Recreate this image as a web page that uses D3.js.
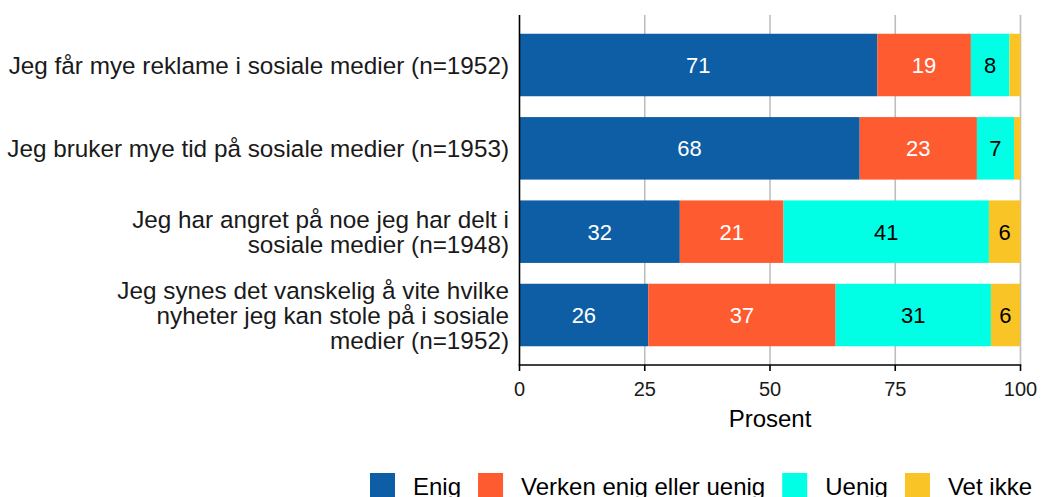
<!DOCTYPE html>
<html>
<head>
<meta charset="utf-8">
<script src="https://cdn.jsdelivr.net/npm/d3@7"></script>
<style>
  html, body { margin: 0; padding: 0; background: #ffffff; }
  svg { display: block; font-family: "Liberation Sans", Arial, sans-serif; }
</style>
</head>
<body>
<svg id="chart" width="1041" height="497"></svg>
<script>
// ---- data ----
const categories = [
  "Jeg får mye reklame i sosiale medier (n=1952)",
  "Jeg bruker mye tid på sosiale medier (n=1953)",
  "Jeg har angret på noe jeg har delt i sosiale medier (n=1948)",
  "Jeg synes det vanskelig å vite hvilke nyheter jeg kan stole på i sosiale medier (n=1952)"
];
const categoryLines = [
  ["Jeg får mye reklame i sosiale medier (n=1952)"],
  ["Jeg bruker mye tid på sosiale medier (n=1953)"],
  ["Jeg har angret på noe jeg har delt i", "sosiale medier (n=1948)"],
  ["Jeg synes det vanskelig å vite hvilke", "nyheter jeg kan stole på i sosiale", "medier (n=1952)"]
];
const seriesNames = ["Enig", "Verken enig eller uenig", "Uenig", "Vet ikke"];
const enig    = [71.4, 67.9, 32.0, 25.7];
const verken  = [18.7, 23.4, 20.7, 37.4];
const uenig   = [7.7, 7.4, 41.0, 31.0];
const vetIkke = [2.2, 1.3, 6.3, 5.8];
const xTicks = [0, 25, 50, 75, 100];
const axisTitle = "Prosent";

// ---- styles ----
const colors = ["#0e5ea5", "#ff5b31", "#00ffe4", "#f9c425"];
const labelColors = ["#ffffff", "#ffffff", "#000000", "#000000"];

const svg = d3.select("#chart");
const pLeft = 519.5, pRight = 1020.5, pTop = 15, pBottom = 365;

const x = d3.scaleLinear().domain([0, 100]).range([pLeft, pRight]);
const y = d3.scaleBand().domain(categories).range([pTop, pBottom])
  .paddingInner(0.25).paddingOuter(0.225);

const seriesValues = [enig, verken, uenig, vetIkke];
const rows = categories.map((c, i) => {
  const r = { cat: c };
  seriesNames.forEach((s, j) => r[s] = seriesValues[j][i]);
  return r;
});
const stacked = d3.stack().keys(seriesNames)(rows);

// gridlines
svg.append("g").selectAll("line").data(xTicks.filter(t => t > 0)).join("line")
  .attr("x1", d => x(d)).attr("x2", d => x(d))
  .attr("y1", pTop).attr("y2", pBottom)
  .attr("stroke", "#bebebe").attr("stroke-width", 1.6);

// bars
const layers = svg.append("g").selectAll("g").data(stacked).join("g")
  .attr("fill", (d, i) => colors[i]);
layers.selectAll("rect").data(d => d).join("rect")
  .attr("x", d => x(d[0]))
  .attr("width", d => x(d[1]) - x(d[0]))
  .attr("y", d => y(d.data.cat))
  .attr("height", y.bandwidth());

// bar labels
stacked.forEach((layer, i) => {
  svg.append("g").selectAll("text").data(layer.filter(d => d[1] - d[0] >= 4)).join("text")
    .attr("x", d => (x(d[0]) + x(d[1])) / 2)
    .attr("y", d => y(d.data.cat) + y.bandwidth() / 2)
    .attr("dy", "0.36em")
    .attr("text-anchor", "middle")
    .attr("font-size", 22)
    .attr("fill", labelColors[i])
    .text(d => Math.round(d[1] - d[0]));
});

// axes lines
svg.append("line").attr("x1", pLeft).attr("x2", pLeft).attr("y1", pTop).attr("y2", pBottom)
  .attr("stroke", "#000").attr("stroke-width", 1.6);
svg.append("line").attr("x1", pLeft - 0.8).attr("x2", pRight + 0.8).attr("y1", pBottom).attr("y2", pBottom)
  .attr("stroke", "#000").attr("stroke-width", 1.6);

// x ticks
const xAxis = svg.append("g");
xAxis.selectAll("line").data(xTicks).join("line")
  .attr("x1", d => x(d)).attr("x2", d => x(d))
  .attr("y1", pBottom).attr("y2", pBottom + 6)
  .attr("stroke", "#000").attr("stroke-width", 1.6);
xAxis.selectAll("text").data(xTicks).join("text")
  .attr("x", d => x(d)).attr("y", 389).attr("dy", "0.36em")
  .attr("text-anchor", "middle").attr("font-size", 20).attr("fill", "#1a1a1a")
  .text(d => d);

svg.append("text").attr("x", (pLeft + pRight) / 2).attr("y", 418).attr("dy", "0.36em")
  .attr("text-anchor", "middle").attr("font-size", 24).attr("fill", "#000")
  .text(axisTitle);

// y labels
categories.forEach((c, i) => {
  const lines = categoryLines[i];
  const lh = 25;
  const cy = y(c) + y.bandwidth() / 2;
  const t = svg.append("text").attr("text-anchor", "end").attr("font-size", 24.3).attr("fill", "#1a1a1a");
  lines.forEach((ln, k) => {
    t.append("tspan").attr("x", 509)
      .attr("y", cy + (k - (lines.length - 1) / 2) * lh)
      .attr("dy", "0.36em").text(ln);
  });
});

// legend
const legend = svg.append("g");
let lx = 370;
seriesNames.forEach((s, i) => {
  legend.append("rect").attr("x", lx).attr("y", 473).attr("width", 25).attr("height", 25)
    .attr("fill", colors[i]);
  const t = legend.append("text").attr("x", lx + 43).attr("y", 486.5).attr("dy", "0.36em")
    .attr("font-size", 24).attr("fill", "#000").text(s);
  lx = lx + 43 + t.node().getComputedTextLength() + 17;
});
</script>
</body>
</html>
